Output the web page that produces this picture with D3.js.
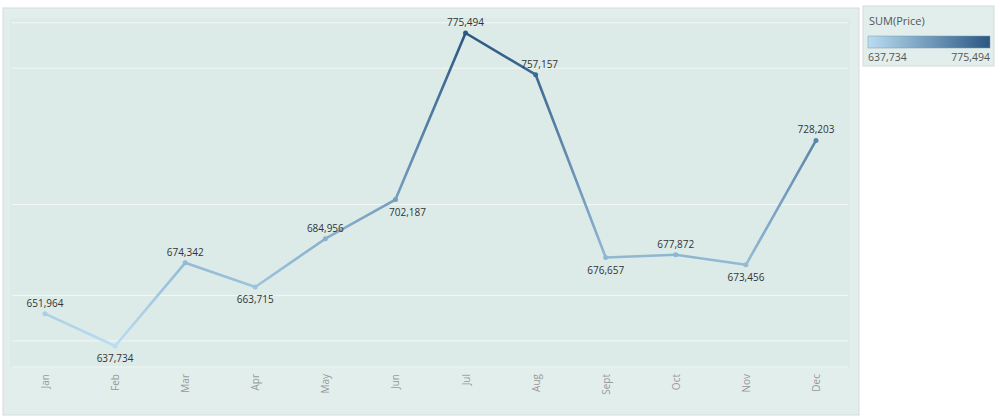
<!DOCTYPE html>
<html><head><meta charset="utf-8">
<script src="https://cdn.jsdelivr.net/npm/d3@7"></script>
<style>body{margin:0;background:#fff;font-family:"Open Sans",Arial,sans-serif}</style>
</head><body><svg id="c" width="1000" height="418"></svg>
<script>
const months = ["Jan","Feb","Mar","Apr","May","Jun","Jul","Aug","Sept","Oct","Nov","Dec"];
const prices = [651964,637734,674342,663715,684956,702187,775494,757157,676657,677872,673456,728203];
const gridValues = [640000,660000,700000,760000,780000];
// label placement: -1 above, 1 below
const labelSide = [-1,1,-1,1,-1,1,-1,-1,1,-1,1,-1];

const svg = d3.select("#c");
const defs = svg.append("defs");
svg.append("rect").attr("x",3).attr("y",8).attr("width",856).attr("height",407)
  .attr("fill","#e2eeec").attr("stroke","#d6dcdb");
svg.append("rect").attr("x",10).attr("y",18).attr("width",840).attr("height",350).attr("fill","#dcebe8");

const x = d3.scalePoint().domain(months).range([45,816]);
const y = d3.scaleLinear().domain([637734,775494]).range([346,33]);
const color = d3.scaleLinear().domain([637734,775494]).range(["#b9ddf1","#2a5783"]);

svg.selectAll(".grid").data(gridValues).join("line")
  .attr("x1",12).attr("x2",848).attr("y1",d=>y(d)).attr("y2",d=>y(d))
  .attr("stroke","#f2f8f7").attr("stroke-width",1);
svg.append("line").attr("x1",12).attr("x2",848).attr("y1",367).attr("y2",367).attr("stroke","#f2f8f7");

const pts = months.map((m,i)=>({m,v:prices[i]}));
const segs = pts.slice(1).map((d,i)=>({a:pts[i],b:d,id:"s"+i}));
segs.forEach(s=>{
  const g = defs.append("linearGradient").attr("id",s.id).attr("gradientUnits","userSpaceOnUse")
    .attr("x1",x(s.a.m)).attr("y1",y(s.a.v)).attr("x2",x(s.b.m)).attr("y2",y(s.b.v));
  g.append("stop").attr("offset",0).attr("stop-color",color(s.a.v));
  g.append("stop").attr("offset",1).attr("stop-color",color(s.b.v));
});
svg.selectAll(".seg").data(segs).join("line")
  .attr("x1",d=>x(d.a.m)).attr("y1",d=>y(d.a.v))
  .attr("x2",d=>x(d.b.m)).attr("y2",d=>y(d.b.v))
  .attr("stroke",d=>`url(#${d.id})`).attr("stroke-width",2.6).attr("stroke-linecap","round");
svg.selectAll(".pt").data(pts).join("circle")
  .attr("cx",d=>x(d.m)).attr("cy",d=>y(d.v)).attr("r",2.5).attr("fill",d=>color(d.v));

svg.selectAll(".lbl").data(pts).join("text")
  .attr("x",(d,i)=>x(d.m)+(i===7?4:i===5?12:0))
  .attr("y",(d,i)=>y(d.v)+(labelSide[i]<0?-7:16))
  .attr("text-anchor","middle").attr("font-size",10).attr("fill","#333")
  .text(d=>d3.format(",")(d.v));

svg.selectAll(".xl").data(months).join("text")
  .attr("transform",d=>`translate(${x(d)+4},374) rotate(-90)`)
  .attr("text-anchor","end").attr("font-size",10).attr("fill","#999").text(d=>d);

// legend
const lg = svg.append("g");
lg.append("rect").attr("x",863).attr("y",6).attr("width",131).attr("height",60)
  .attr("fill","#e2eeec").attr("stroke","#d6dcdb");
lg.append("text").attr("x",869).attr("y",25).attr("font-size",11).attr("fill","#555").text("SUM(Price)");
const grad = defs.append("linearGradient").attr("id","g");
grad.selectAll("stop").data([0,1]).join("stop").attr("offset",d=>d)
  .attr("stop-color",d=>color(637734+d*(775494-637734)));
lg.append("rect").attr("x",868).attr("y",36).attr("width",122).attr("height",12)
  .attr("fill","url(#g)").attr("stroke","#7f98a8").attr("stroke-width",0.5);
lg.append("text").attr("x",868).attr("y",61).attr("font-size",10.5).attr("fill","#555").text("637,734");
lg.append("text").attr("x",990).attr("y",61).attr("text-anchor","end").attr("font-size",10.5).attr("fill","#555").text("775,494");
</script></body></html>
